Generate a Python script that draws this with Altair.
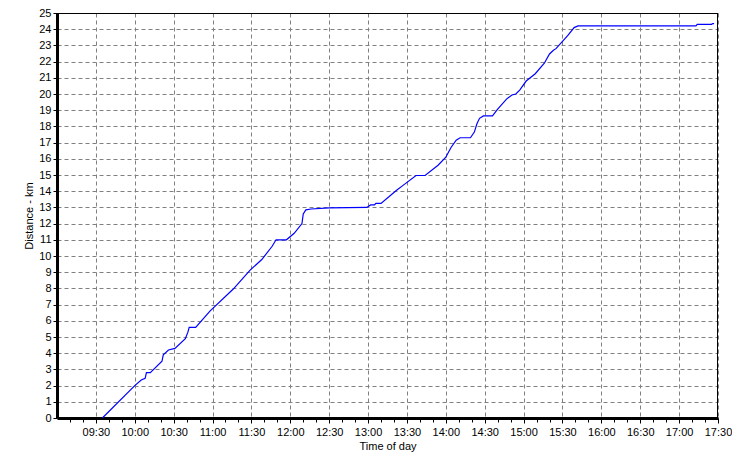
import altair as alt
import pandas as pd

# Time of day (HH:MM) and cumulative distance (km)
times = ["09:35", "10:00", "10:05", "10:08", "10:09", "10:12", "10:21", "10:22",
         "10:26", "10:31", "10:39", "10:41", "10:42", "10:47", "10:58", "11:16",
         "11:29", "11:38", "11:46", "11:49", "11:57", "12:03", "12:09", "12:10",
         "12:12", "12:16", "12:30", "12:59", "13:02", "13:05", "13:06", "13:10",
         "13:22", "13:27", "13:37", "13:44", "13:54", "14:00", "14:04", "14:08",
         "14:11", "14:19", "14:22", "14:24", "14:26", "14:29", "14:36", "14:40",
         "14:47", "14:51", "14:54", "14:57", "15:02", "15:09", "15:16", "15:20",
         "15:23", "15:25", "15:30", "15:34", "15:39", "15:42", "17:13", "17:14",
         "17:25", "17:26", "17:27"]
distance = [0.0, 2.0, 2.35, 2.45, 2.8, 2.8, 3.5, 3.9,
            4.2, 4.3, 4.9, 5.3, 5.6, 5.6, 6.6, 7.96,
            9.13, 9.78, 10.6, 11.0, 11.0, 11.4, 12.0, 12.6,
            12.85, 12.9, 12.97, 13.0, 13.15, 13.15, 13.25, 13.25,
            14.06, 14.36, 14.97, 14.97, 15.6, 16.1, 16.7, 17.15,
            17.3, 17.3, 17.65, 18.16, 18.5, 18.65, 18.65, 19.07,
            19.7, 19.94, 20.0, 20.24, 20.8, 21.25, 21.9, 22.47,
            22.7, 22.8, 23.25, 23.6, 24.1, 24.2, 24.2, 24.3,
            24.3, 24.35, 24.35]

x_tick_labels = ["09:30", "10:00", "10:30", "11:00", "11:30", "12:00", "12:30",
                 "13:00", "13:30", "14:00", "14:30", "15:00", "15:30", "16:00",
                 "16:30", "17:00", "17:30"]
y_tick_labels = list(range(0, 26))


def to_min(s):
    h, m = s.split(":")
    return int(h) * 60 + int(m)


df = pd.DataFrame({"t": [to_min(t) for t in times], "d": distance})
major = [to_min(s) for s in x_tick_labels]
minor = [m for m in range(550, 1050, 10) if m not in major]

FONT = "Liberation Sans"
label_expr = "timeFormat(datetime(2000, 0, 1, floor(datum.value / 60), datum.value % 60), '%H:%M')"

W, H = 661, 405

x_scale = alt.Scale(domain=[540, 1050], nice=False, zero=False)
y_scale = alt.Scale(domain=[0, 25], nice=False, zero=True)

line = alt.Chart(df).mark_line(color="#0000ff", strokeWidth=1.2).encode(
    x=alt.X("t:Q", scale=x_scale,
            axis=alt.Axis(values=major, labelExpr=label_expr, title="Time of day",
                          orient="bottom",
                          grid=True, gridDash=[4, 3], gridColor="#808080", gridWidth=1,
                          domainColor="black", domainWidth=3,
                          tickColor="black", tickSize=5, tickWidth=1,
                          labelFont=FONT, labelFontSize=11, labelColor="black",
                          labelPadding=3, labelFlush=False,
                          titleFont=FONT, titleFontSize=11, titleFontWeight="normal",
                          titleColor="black", titlePadding=3)),
    y=alt.Y("d:Q", scale=y_scale,
            axis=alt.Axis(values=y_tick_labels, title="Distance - km", orient="left",
                          grid=True, gridDash=[4, 3], gridColor="#808080", gridWidth=1,
                          domainColor="black", domainWidth=3,
                          tickColor="black", tickSize=4, tickWidth=1,
                          labelFont=FONT, labelFontSize=11, labelColor="black",
                          labelPadding=2, labelFlush=False,
                          titleFont=FONT, titleFontSize=11, titleFontWeight="normal",
                          titleColor="black", titlePadding=4)),
)

minor_ticks = alt.Chart(df).mark_point(opacity=0).encode(
    x=alt.X("t:Q", scale=x_scale,
            axis=alt.Axis(values=minor, orient="bottom", labels=False, grid=False,
                          domain=False, tickColor="black", tickSize=4, tickWidth=1,
                          title=None)),
)

# top and right frame lines drawn over the grid
frame_top = alt.Chart(df).mark_rule(color="black", strokeWidth=1).encode(
    x=alt.value(0), x2=alt.value(W), y=alt.value(0.5))
frame_right = alt.Chart(df).mark_rule(color="black", strokeWidth=1).encode(
    x=alt.value(W - 0.5), y=alt.value(0), y2=alt.value(H))

chart = alt.layer(line, minor_ticks, frame_top, frame_right).resolve_axis(
    x="independent"
).properties(
    width=W, height=H,
    autosize=alt.AutoSizeParams(type="none"),
    padding={"left": 49, "top": 5, "right": 14, "bottom": 34},
    background="white",
).configure_view(stroke=None)

chart.save("out.html", embed_options={"renderer": "svg", "actions": False})
